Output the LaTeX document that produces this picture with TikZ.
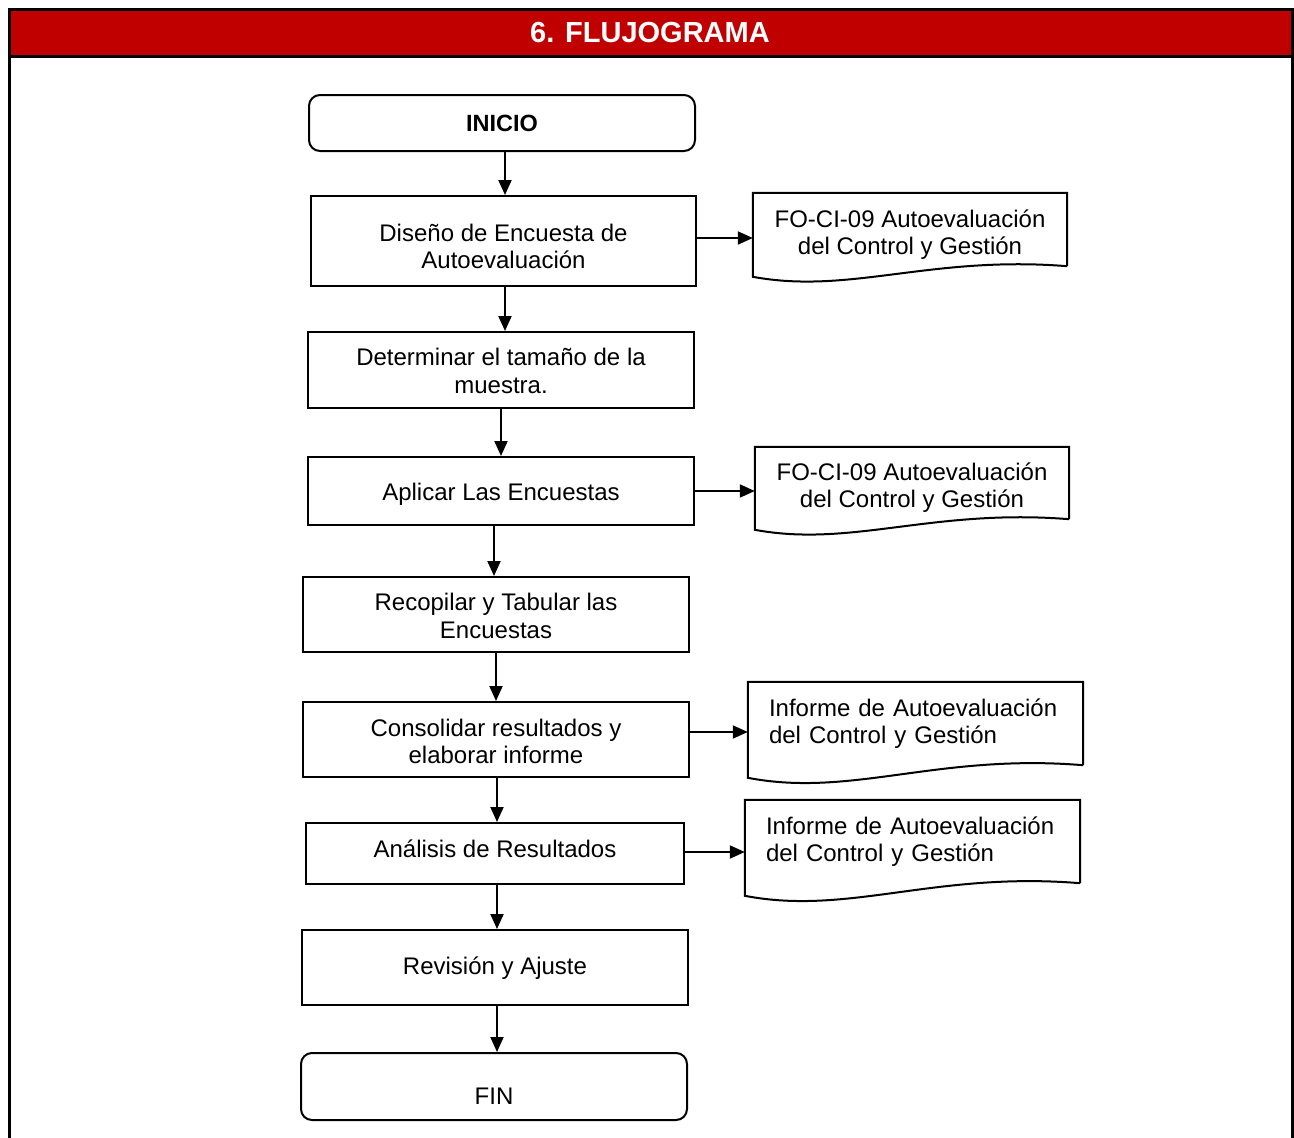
\documentclass[tikz,border=0pt]{standalone}
\usepackage{fontspec}
\setmainfont{Liberation Sans}
\usetikzlibrary{arrows.meta}
\definecolor{hdrred}{HTML}{C00000}
\newcommand{\vshift}[2]{\raisebox{#1}[\height][\depth]{\begin{tabular}{@{}c@{}}#2\end{tabular}}}
\begin{document}
\begin{tikzpicture}[x=1pt,y=-1pt,
  font=\fontsize{24}{27.5}\selectfont,
  procbox/.style={draw,line width=2pt,inner sep=0pt,align=center},
  termbox/.style={draw,line width=2pt,inner sep=0pt,align=center,rounded corners=11pt},
  docnode/.style={inner sep=0pt,align=center},
  docline/.style={line width=2pt},
  arr/.style={line width=2pt,-{Triangle[length=15pt,width=13pt]}}]
\useasboundingbox (0,0) rectangle (1294,1138);
% frame and header
\fill[hdrred] (9,9) rectangle (1292,56);
\draw[line width=3pt] (9,1138) -- (9,9) -- (1292,9) -- (1292,1138);
\draw[line width=3pt] (9,56) -- (1292,56);
\node[text=white,font=\fontsize{29}{32}\selectfont\bfseries] (title) at (650,33) {6. FLUJOGRAMA};
% process nodes
\node[termbox,minimum width=386pt,minimum height=56pt,font=\fontsize{23.5}{27.5}\selectfont\bfseries] (ini) at (502,123) {INICIO};
\node[procbox,minimum width=385pt,minimum height=90pt] (dis) at (503.5,241) {\vshift{-8.5pt}{Diseño de Encuesta de\\Autoevaluación}};
\node[procbox,minimum width=386pt,minimum height=76pt] (det) at (501,370) {\vshift{-4pt}{Determinar el tamaño de la\\muestra.}};
\node[procbox,minimum width=386pt,minimum height=68pt] (apl) at (501,491) {\vshift{-4pt}{Aplicar Las Encuestas}};
\node[procbox,minimum width=386pt,minimum height=75pt] (rec) at (496,614.5) {\vshift{-4.5pt}{Recopilar y Tabular las\\Encuestas}};
\node[procbox,minimum width=386pt,minimum height=75pt] (con) at (496,739.5) {\vshift{-5pt}{Consolidar resultados y\\elaborar informe}};
\node[procbox,minimum width=378pt,minimum height=61pt] (ana) at (495,853.5) {\vshift{2pt}{Análisis de Resultados}};
\node[procbox,minimum width=386pt,minimum height=75pt] (rev) at (495,967.5) {\vshift{-1pt}{Revisión y Ajuste}};
\node[termbox,minimum width=386pt,minimum height=67pt] (fin) at (494,1086.5) {\vshift{-12pt}{FIN}};
% document nodes (upper rectangular part)
\node[docnode,minimum width=314pt,minimum height=73pt] (d1) at (910,229.5) {\vshift{-6pt}{FO-CI-09 Autoevaluación\\del Control y Gestión}};
\node[docnode,minimum width=314pt,minimum height=72pt] (d2) at (912,483) {\vshift{-5.5pt}{FO-CI-09 Autoevaluación\\del Control y Gestión}};
\node[docnode,minimum width=335pt,minimum height=83pt,text width=293pt,align=left,inner xsep=21pt] (d3) at (915.5,723.5) {Informe de Autoevaluación\\del Control y Gestión};
\node[docnode,minimum width=335pt,minimum height=83pt,text width=293pt,align=left,inner xsep=21pt] (d4) at (912.5,841.5) {Informe de Autoevaluación\\del Control y Gestión};
% document outlines
\draw[docline] (d1.south east) -- (d1.north east) -- (d1.north west) -- ++(0,84)
  .. controls ++(97,18) and ++(-137,-11) .. (d1.south east);
\draw[docline] (d2.south east) -- (d2.north east) -- (d2.north west) -- ++(0,83)
  .. controls ++(97,18) and ++(-137,-11) .. (d2.south east);
\draw[docline] (d3.south east) -- (d3.north east) -- (d3.north west) -- ++(0,96)
  .. controls ++(104,20) and ++(-146,-12) .. (d3.south east);
\draw[docline] (d4.south east) -- (d4.north east) -- (d4.north west) -- ++(0,96)
  .. controls ++(104,20) and ++(-146,-12) .. (d4.south east);
% vertical connectors
\draw[arr] ([xshift=3pt]ini.south) -- ([xshift=1.5pt]dis.north);
\draw[arr] ([xshift=1.5pt]dis.south) -- ([xshift=4pt]det.north);
\draw[arr] (det.south) -- (apl.north);
\draw[arr] ([xshift=-7pt]apl.south) -- ([xshift=-2pt]rec.north);
\draw[arr] (rec.south) -- (con.north);
\draw[arr] ([xshift=1pt]con.south) -- ([xshift=2pt]ana.north);
\draw[arr] ([xshift=2pt]ana.south) -- ([xshift=2pt]rev.north);
\draw[arr] ([xshift=2pt]rev.south) -- ([xshift=3pt]fin.north);
% horizontal connectors
\draw[arr] ([yshift=3pt]dis.east) -- ([yshift=3pt]dis.east -| d1.west);
\draw[arr] (apl.east) -- (apl.east -| d2.west);
\draw[arr] ([yshift=7.5pt]con.east) -- ([yshift=7.5pt]con.east -| d3.west);
\draw[arr] ([yshift=1.5pt]ana.east) -- ([yshift=1.5pt]ana.east -| d4.west);
\end{tikzpicture}
\end{document}
